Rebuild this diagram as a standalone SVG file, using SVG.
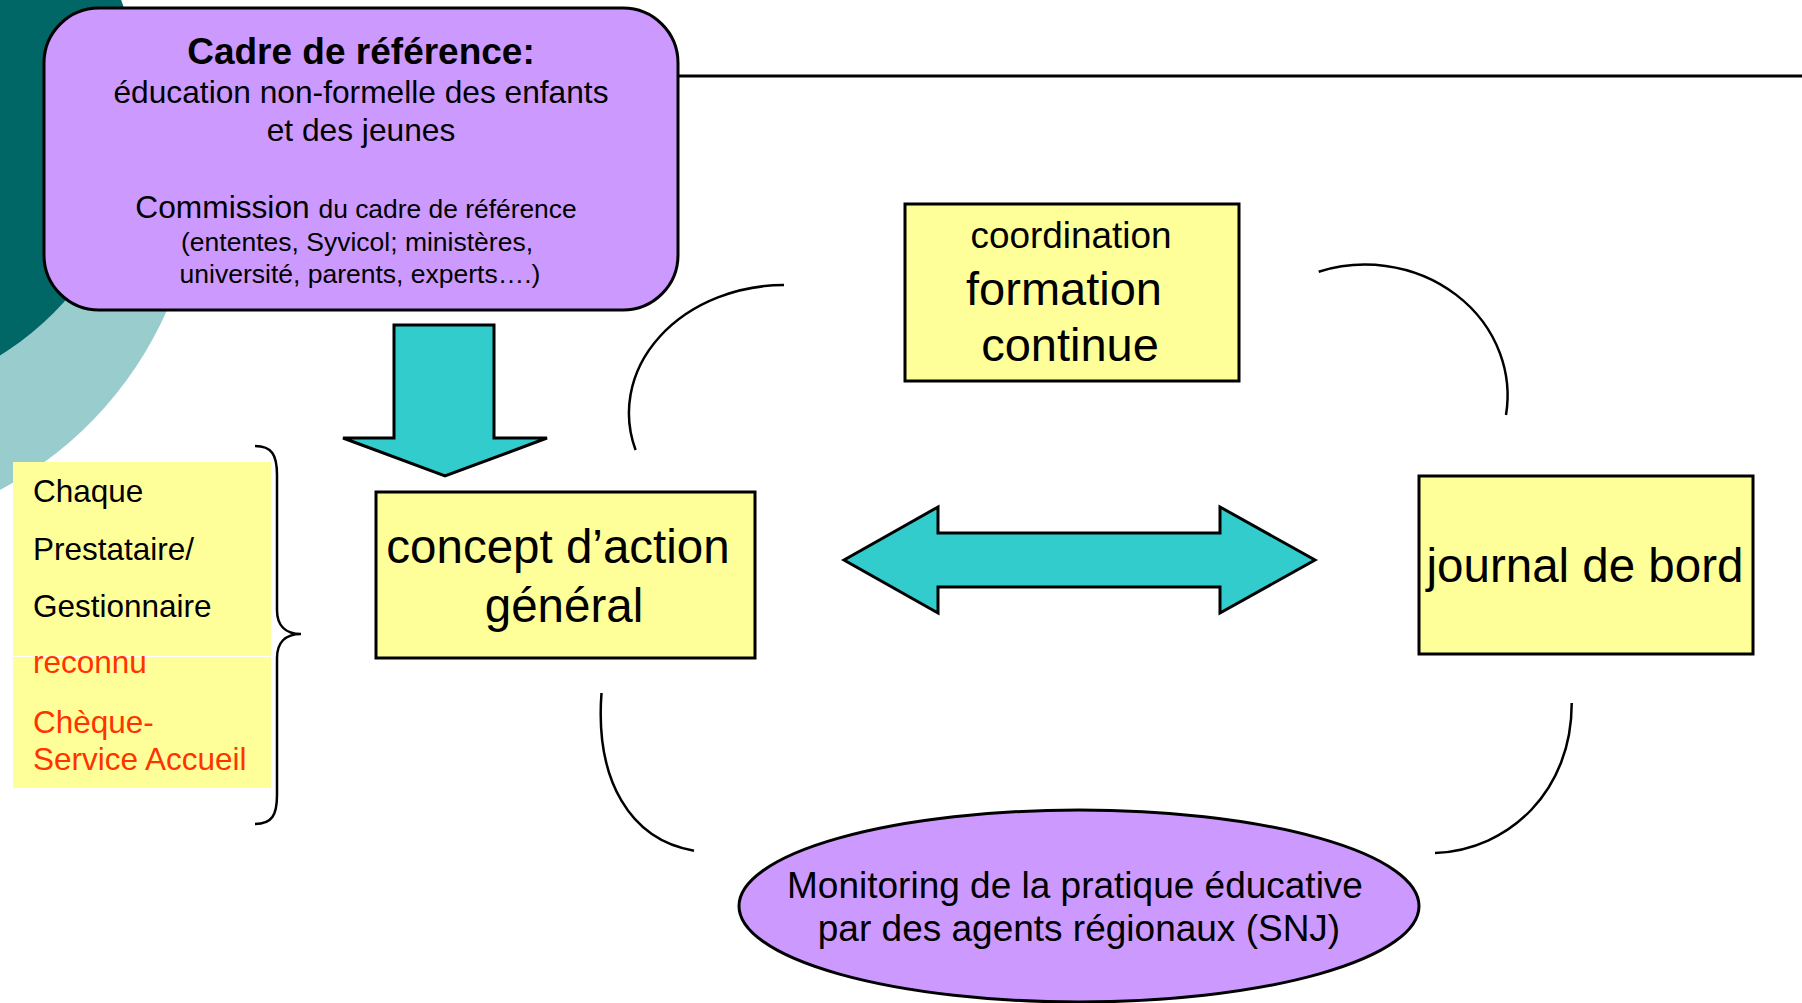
<svg xmlns="http://www.w3.org/2000/svg" width="1802" height="1003" viewBox="0 0 1802 1003">
<style>
text { font-family: "Liberation Sans", Arial, sans-serif; fill: #000; }
.mid { text-anchor: middle; }
.box { fill: #FFFF99; stroke: #000; stroke-width: 3; }
.purple { fill: #CC99FF; stroke: #000; stroke-width: 3; }
.block { fill: #33CCCC; stroke: #000; stroke-width: 3; stroke-linejoin: miter; }
.arc { fill: none; stroke: #000; stroke-width: 2.5; }
.red { fill: #FF3300; }
</style>
<rect width="1802" height="1003" fill="#ffffff"/>
<g id="background">
  <path d="M0,30 L176.5,30 A376,376 0 0 1 0,490 Z" fill="#99CCCC"/>
  <circle cx="-156" cy="104" r="296" fill="#006666"/>
  <line x1="678" y1="76" x2="1802" y2="76" stroke="#000" stroke-width="3"/>
</g>
<g id="connectors">
  <path class="block" d="M394,325 L494,325 L494,438 L547,438 L445,476 L343,438 L394,438 Z"/>
  <path class="block" d="M844,560 L938,507 L938,533 L1220,533 L1220,507 L1315,560 L1220,613 L1220,587 L938,587 L938,613 Z"/>
  <path class="arc" d="M784,285 A156,128 0 0 0 635.6,450"/>
  <path class="arc" d="M1318.7,271.7 A142.5,131 0 0 1 1506,415"/>
  <path class="arc" d="M601.5,693 C595,780 630,840 694,850.7"/>
  <path class="arc" d="M1571.7,703 C1572,790 1510,850 1435,853"/>
  <path class="arc" d="M255,446 C272,446 277,455 277,475 L277,610 C277,625 285,634 301,634 C285,634 277,643 277,658 L277,795 C277,815 272,824 255,824"/>
</g>
<g id="cadre">
  <rect x="44" y="8" width="634" height="302" rx="55" class="purple"/>
  <text class="mid" x="361" y="64" font-size="37" font-weight="bold">Cadre de référence:</text>
  <text class="mid" x="361" y="103" font-size="31.7">éducation non-formelle des enfants</text>
  <text class="mid" x="361" y="141" font-size="31.7">et des jeunes</text>
  <text class="mid" x="356" y="218"><tspan font-size="31.7">Commission </tspan><tspan font-size="26.4">du cadre de référence</tspan></text>
  <text class="mid" x="357" y="251" font-size="26.5">(ententes, Syvicol; ministères,</text>
  <text class="mid" x="360" y="283" font-size="26.5">université, parents, experts….)</text>
</g>
<g id="prestataire">
  <rect x="13" y="462" width="258" height="194" fill="#FFFF99"/>
  <rect x="13" y="657" width="258" height="131" fill="#FFFF99"/>
  <text x="33" y="502" font-size="31.5">Chaque</text>
  <text x="33" y="560" font-size="31.5">Prestataire/</text>
  <text x="33" y="617" font-size="31.5">Gestionnaire</text>
  <text class="red" x="33" y="673" font-size="31.5">reconnu</text>
  <text class="red" x="33" y="733" font-size="31.5">Chèque-</text>
  <text class="red" x="33" y="770" font-size="31.5">Service Accueil</text>
</g>
<g id="concept">
  <rect x="376" y="492" width="379" height="166" class="box"/>
  <text class="mid" x="558" y="563" font-size="47.5">concept d’action</text>
  <text class="mid" x="564" y="622" font-size="47.5">général</text>
</g>
<g id="formation">
  <rect x="905" y="204" width="334" height="177" class="box"/>
  <text class="mid" x="1071" y="248" font-size="36.9">coordination</text>
  <text class="mid" x="1064" y="305" font-size="47">formation</text>
  <text class="mid" x="1070" y="361" font-size="47">continue</text>
</g>
<g id="journal">
  <rect x="1419" y="476" width="334" height="178" class="box"/>
  <text class="mid" x="1585" y="582" font-size="47.5">journal de bord</text>
</g>
<g id="monitoring">
  <ellipse cx="1079" cy="906" rx="340" ry="96" class="purple"/>
  <text class="mid" x="1075" y="898" font-size="37">Monitoring de la pratique éducative</text>
  <text class="mid" x="1079" y="941" font-size="37">par des agents régionaux (SNJ)</text>
</g>
</svg>
